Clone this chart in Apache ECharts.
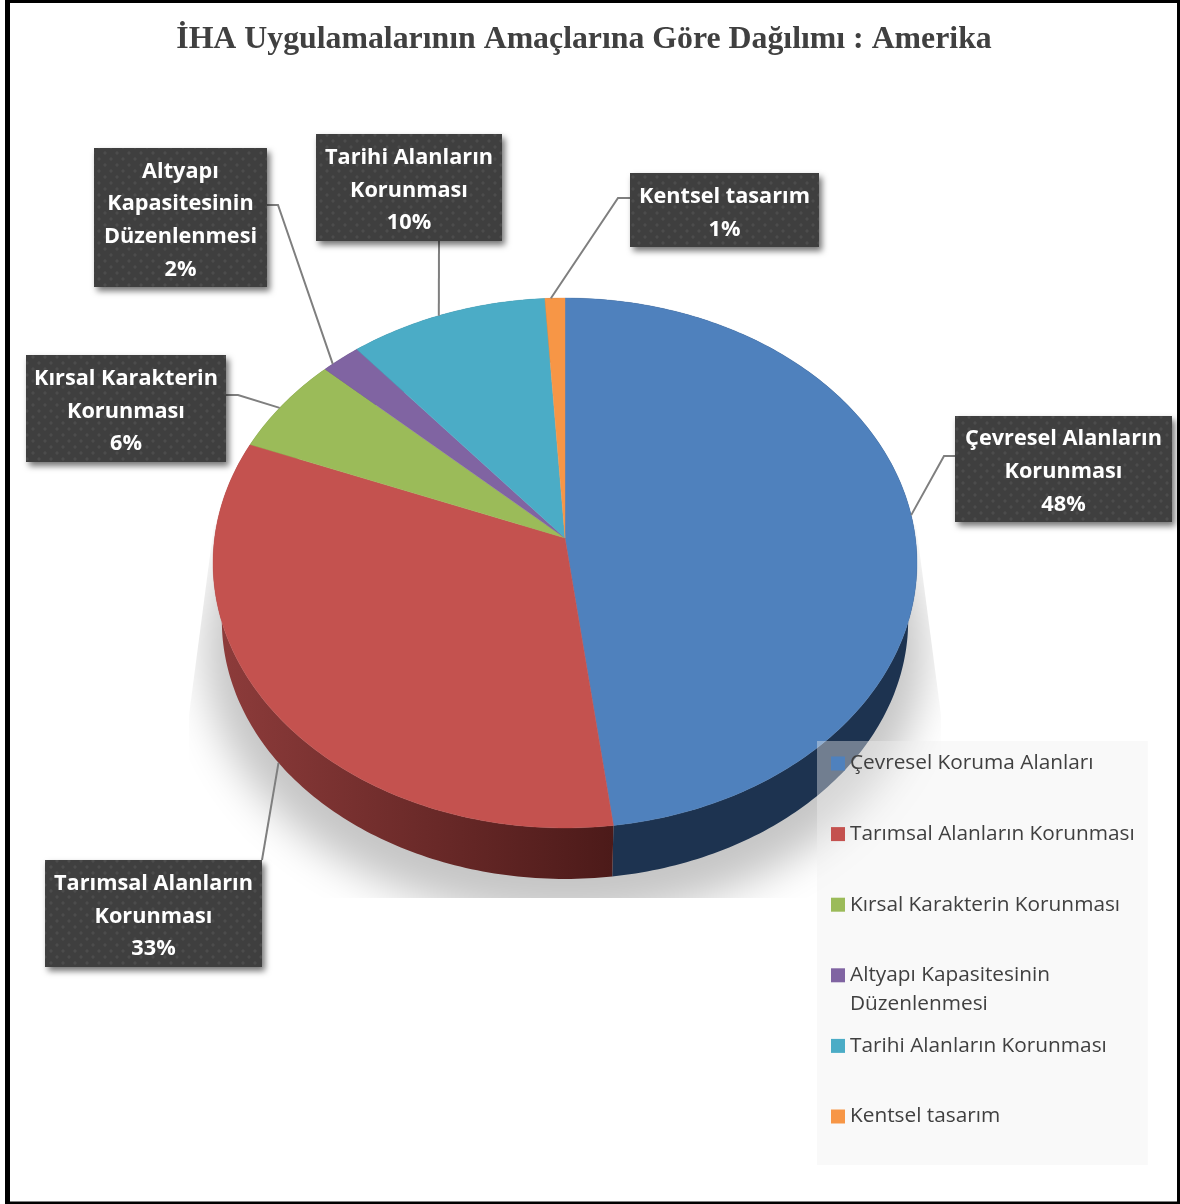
<!DOCTYPE html>
<html lang="tr">
<head>
<meta charset="utf-8">
<title>İHA Uygulamalarının Amaçlarına Göre Dağılımı : Amerika</title>
<script src="https://cdn.jsdelivr.net/npm/echarts@6/dist/echarts.min.js"></script>
<style>
  html, body { margin: 0; padding: 0; background: #fff; }
  #chart { width: 1180px; height: 1204px; }
</style>
</head>
<body>
<div id="chart"></div>
<script>
// Chart data
const chartTitle = 'İHA Uygulamalarının Amaçlarına Göre Dağılımı : Amerika';
const legendNames = [
  'Çevresel Koruma Alanları',
  'Tarımsal Alanların Korunması',
  'Kırsal Karakterin Korunması',
  'Altyapı Kapasitesinin\nDüzenlenmesi',
  'Tarihi Alanların Korunması',
  'Kentsel tasarım'
];
const calloutNames = [
  ['Çevresel Alanların', 'Korunması'],
  ['Tarımsal Alanların', 'Korunması'],
  ['Kırsal Karakterin', 'Korunması'],
  ['Altyapı', 'Kapasitesinin', 'Düzenlenmesi'],
  ['Tarihi Alanların', 'Korunması'],
  ['Kentsel tasarım']
];
const shares = [48, 33, 6, 2, 10, 1];

// Colours
const faceColors = ['#4f81bd', '#c4524f', '#9bbb59', '#8064a2', '#4bacc6', '#f79646'];
const wallStops = [
  ['#1d3350', '#1d3350'],
  ['#8e3c3b', '#4c1a19'],
  ['#6a7f3a', '#6a7f3a'],
  ['#4f3d66', '#4f3d66'],
  ['#2c6c7d', '#2c6c7d'],
  ['#a5621f', '#a5621f']
];

// Callout boxes: rectangle [x0, y0, x1, y1], elbow path from the box, position of
// the leader's tip along the cumulative share axis, and whether it lands on the wall.
const callouts = [
  { box: [955, 416, 1172, 522], path: [[955, 456], [944, 456]], at: 23.6, wall: false },
  { box: [45, 860, 262, 967], path: [[262, 860]], at: 64.5, wall: true },
  { box: [26, 355, 226, 462], path: [[226, 395], [238, 395]], at: 83.7, wall: false },
  { box: [94, 148, 267, 287], path: [[267, 205], [278, 205]], at: 87.5, wall: false },
  { box: [316, 134, 502, 241], path: [[439, 241]], at: 93.6, wall: false },
  { box: [630, 173, 819, 247], path: [[630, 198], [618, 198]], at: 99.3, wall: false }
];

// Tilted-disc projection: apex of the pie and perspective terms
const APEX_X = 565, APEX_Y = 538;
const DISC_A = 350.4, DISC_B = 262.6, DISC_K = -0.0943;
const WALL_SCALE = 0.975, WALL_DROP = 58.25;

const total = shares.reduce((a, b) => a + b, 0);
const cumulative = [];
shares.reduce((acc, v, i) => { cumulative[i] = acc; return acc + v; }, 0);

// Maps a cumulative share (clockwise from 12 o'clock) to the top-face rim.
function rim(share) {
  const t = share / total * Math.PI * 2;
  const x = Math.sin(t), y = -Math.cos(t);
  const d = 1 + DISC_K * y;
  return [DISC_A * x / d, DISC_B * y / d];
}
const faceRim = s => { const p = rim(s); return [APEX_X + p[0], APEX_Y + p[1]]; };
const wallRim = s => {
  const p = rim(s);
  return [APEX_X + p[0] * WALL_SCALE, APEX_Y + p[1] * WALL_SCALE + WALL_DROP];
};
function arc(from, to, fn) {
  const n = Math.max(2, Math.ceil((to - from) * 4));
  const pts = [];
  for (let i = 0; i <= n; i++) pts.push(fn(from + (to - from) * i / n));
  return pts;
}

// Dotted texture for the callout boxes
function dotTexture() {
  const c = document.createElement('canvas');
  c.width = 12; c.height = 12;
  const g = c.getContext('2d');
  g.fillStyle = '#3f3f3f';
  g.fillRect(0, 0, 12, 12);
  g.fillStyle = 'rgba(255,255,255,0.07)';
  [[3, 3], [9, 9]].forEach(p => {
    g.beginPath();
    g.arc(p[0], p[1], 1.7, 0, Math.PI * 2);
    g.fill();
  });
  return c;
}
const boxFill = { image: dotTexture(), repeat: 'repeat' };

// One series per category, so the legend lists them natively.
const faceSeries = legendNames.map((name, i) => ({
  type: 'custom',
  name: name,
  coordinateSystem: 'none',
  z: 4,
  silent: true,
  itemStyle: { color: faceColors[i] },
  data: [[cumulative[i], shares[i]]],
  renderItem: (params, api) => {
    const start = api.value(0), end = start + api.value(1);
    return {
      type: 'polygon',
      shape: { points: [[APEX_X, APEX_Y]].concat(arc(start, end, faceRim)) },
      style: { fill: faceColors[i], stroke: faceColors[i], lineWidth: 0.4 }
    };
  }
}));

// Ground shadow: only the blur of an off-canvas ellipse is visible, cut to a wedge.
const SHADOW_SHIFT = 3000;
const shadowSeries = {
  type: 'custom',
  coordinateSystem: 'none',
  z: 1,
  silent: true,
  data: [[total]],
  renderItem: () => ({
    type: 'group',
    clipPath: {
      type: 'polygon',
      shape: { points: [[214, 525], [916, 525], [941, 715], [941, 898], [189, 898], [189, 715]] }
    },
    children: [{
      type: 'ellipse',
      shape: { cx: 565 - SHADOW_SHIFT, cy: 650, rx: 360, ry: 268 },
      style: {
        fill: '#c6c6c6',
        shadowColor: '#c6c6c6',
        shadowBlur: 42,
        shadowOffsetX: SHADOW_SHIFT
      }
    }]
  })
};

const wallSeries = {
  type: 'custom',
  coordinateSystem: 'none',
  z: 2,
  silent: true,
  data: shares.map((v, i) => [cumulative[i], v]),
  renderItem: (params, api) => {
    const start = api.value(0), end = start + api.value(1);
    const stops = wallStops[params.dataIndex];
    const top = arc(start, end, faceRim);
    const bottom = arc(start, end, wallRim).reverse();
    return {
      type: 'polygon',
      shape: { points: top.concat(bottom) },
      style: {
        fill: {
          type: 'linear', x: 1, y: 0, x2: 0, y2: 0,
          colorStops: [{ offset: 0, color: stops[1] }, { offset: 1, color: stops[0] }]
        }
      }
    };
  }
};

const calloutSeries = {
  type: 'custom',
  coordinateSystem: 'none',
  z: 6,
  silent: true,
  data: shares.map((v, i) => [i, v]),
  renderItem: (params, api) => {
    const i = api.value(0);
    const c = callouts[i];
    const [x0, y0, x1, y1] = c.box;
    const tip = c.wall ? wallRim(c.at) : faceRim(c.at);
    const lines = calloutNames[i].concat(api.value(1) + '%');
    return {
      type: 'group',
      children: [{
        type: 'polyline',
        shape: { points: c.path.concat([tip]) },
        style: { stroke: '#7f7f7f', lineWidth: 2, fill: null }
      }, {
        type: 'rect',
        shape: { x: x0, y: y0, width: x1 - x0, height: y1 - y0 },
        style: {
          fill: boxFill,
          shadowColor: 'rgba(0,0,0,0.55)', shadowBlur: 6,
          shadowOffsetX: 3, shadowOffsetY: 4
        }
      }, {
        type: 'text',
        style: {
          x: (x0 + x1) / 2,
          y: (y0 + y1) / 2 + 3,
          text: lines.join('\n'),
          align: 'center',
          verticalAlign: 'middle',
          fill: '#ffffff',
          font: 'bold 21.7px "Open Sans"',
          lineHeight: 32.7
        }
      }]
    };
  }
};

const chart = echarts.init(document.getElementById('chart'), null, { renderer: 'canvas' });
chart.setOption({
  animation: false,
  backgroundColor: '#ffffff',
  tooltip: { show: false },
  title: {
    text: chartTitle,
    left: 579,
    top: 19,
    textAlign: 'center',
    textStyle: {
      fontFamily: '"Liberation Serif"',
      fontWeight: 'bold',
      fontSize: 31.8,
      color: '#404040'
    }
  },
  legend: {
    orient: 'vertical',
    left: 817,
    top: 741,
    height: 440,
    padding: [12, 13, 38, 14],
    itemWidth: 14,
    itemHeight: 14,
    itemGap: 49.6,
    icon: 'rect',
    selectedMode: false,
    backgroundColor: 'rgba(240,240,240,0.4)',
    z: 8,
    data: legendNames,
    formatter: name => name.split('\n')[0],
    textStyle: {
      fontFamily: '"Open Sans"',
      fontSize: 20.8,
      color: '#404040'
    }
  },
  graphic: [{
    // Page frame
    type: 'rect',
    z: 20,
    silent: true,
    shape: { x: 7.5, y: 1.5, width: 1171, height: 1201.5 },
    style: { fill: null, stroke: '#000000', lineWidth: 3 }
  }, {
    type: 'rect',
    z: 20,
    silent: true,
    shape: { x: 5, y: 0, width: 5, height: 1204 },
    style: { fill: '#000000' }
  }, {
    // Wrapped second line of the fourth legend entry
    type: 'text',
    z: 20,
    silent: true,
    style: {
      x: 850,
      y: 1004,
      text: legendNames[3].split('\n')[1],
      fill: '#404040',
      font: '20.8px "Open Sans"',
      verticalAlign: 'middle'
    }
  }],
  series: [shadowSeries, wallSeries].concat(faceSeries, [calloutSeries])
});
</script>
</body>
</html>
